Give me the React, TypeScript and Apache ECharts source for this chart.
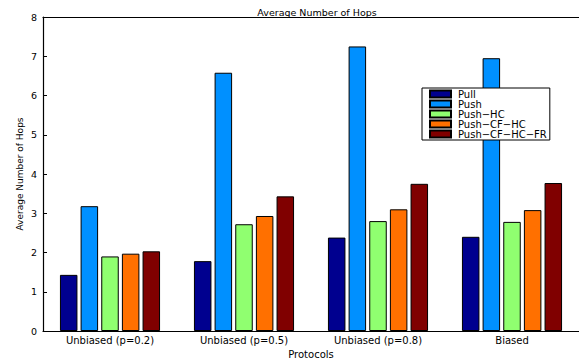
import React, { useEffect, useRef } from "react";
import * as echarts from "echarts";

const categories = ["Unbiased (p=0.2)", "Unbiased (p=0.5)", "Unbiased (p=0.8)", "Biased"];
const seriesNames = ["Pull", "Push", "Push\u2212HC", "Push\u2212CF\u2212HC", "Push\u2212CF\u2212HC\u2212FR"];
const pull = [1.43, 1.78, 2.38, 2.4];
const push = [3.18, 6.58, 7.25, 6.95];
const pushHC = [1.9, 2.72, 2.8, 2.78];
const pushCFHC = [1.97, 2.93, 3.1, 3.08];
const pushCFHCFR = [2.03, 3.43, 3.75, 3.77];
const colors = ["#00008F", "#0090FF", "#90FF70", "#FF7000", "#800000"];
const yTicks = [0, 1, 2, 3, 4, 5, 6, 7, 8];

export default function App() {
  const ref = useRef<HTMLDivElement>(null);
  useEffect(() => {
    document.body.style.margin = "0";
    const chart = echarts.init(ref.current!, null, { renderer: "svg" });
    const values = [pull, push, pushHC, pushCFHC, pushCFHCFR];
    const font = "DejaVu Sans, Verdana, sans-serif";
    chart.setOption({
      animation: false,
      backgroundColor: "#ffffff",
      textStyle: { fontFamily: font },
      title: {
        text: "Average Number of Hops",
        left: 312,
        textAlign: "center",
        top: 2,
        textStyle: { fontSize: 9.5, fontWeight: "normal", color: "#000", fontFamily: font },
      },
      legend: {
        orient: "vertical",
        left: 422,
        top: 88,
        backgroundColor: "#fff",
        borderColor: "#000",
        borderWidth: 1,
        borderRadius: 0,
        padding: [1, 3, 1, 7],
        itemWidth: 21,
        itemHeight: 7,
        itemGap: 0,
        icon: "rect",
        textStyle: { fontSize: 10, lineHeight: 10, color: "#000", fontFamily: font, padding: [0, 0, 0, 2] },
        data: seriesNames,
      },
      grid: { left: 43, right: -1, top: 17, bottom: 28, containLabel: false },
      xAxis: [
        {
          type: "category",
          data: categories,
          name: "Protocols",
          nameLocation: "middle",
          nameGap: 18,
          nameMoveOverlap: false,
          nameTextStyle: { fontSize: 10, color: "#000", fontFamily: font },
          axisLine: { lineStyle: { color: "#000", width: 1.2 } },
          axisTick: { inside: true, alignWithLabel: true, length: 4, lineStyle: { color: "#000" } },
          axisLabel: { fontSize: 10, color: "#000", margin: 4, fontFamily: font },
        },
        {
          type: "category",
          data: categories,
          position: "top",
          axisLine: { lineStyle: { color: "#000", width: 1.2 } },
          axisTick: { inside: true, alignWithLabel: true, length: 4, lineStyle: { color: "#000" } },
          axisLabel: { show: false },
        },
      ],
      yAxis: {
        type: "value",
        min: yTicks[0],
        max: yTicks[yTicks.length - 1],
        interval: 1,
        name: "Average Number of Hops",
        nameLocation: "middle",
        nameGap: 19,
        nameMoveOverlap: false,
        nameTextStyle: { fontSize: 9, color: "#000", fontFamily: font },
        axisLine: { show: true, lineStyle: { color: "#000", width: 1.2 } },
        axisTick: { show: true, inside: true, length: 4, lineStyle: { color: "#000" } },
        axisLabel: { fontSize: 9.5, color: "#000", margin: 6, fontFamily: font },
        splitLine: { show: false },
      },
      series: values.map((v, i) => ({
        name: seriesNames[i],
        type: "bar",
        data: v,
        barWidth: 17.5,
        barGap: "18%",
        itemStyle: { color: colors[i], borderColor: "#000", borderWidth: 1 },
      })),
    });
    return () => chart.dispose();
  }, []);
  return <div ref={ref} style={{ width: 579, height: 364 }} />;
}
